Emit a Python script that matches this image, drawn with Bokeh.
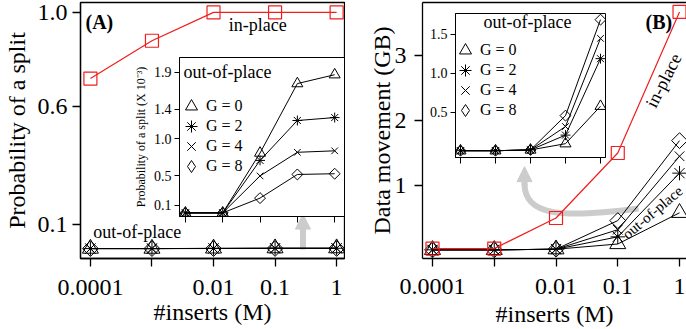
import math
from bokeh.plotting import figure
from bokeh.layouts import row
from bokeh.models import (Range1d, FixedTicker, Label, Legend, LegendItem, Arrow,
                          NormalHead, LinearAxis)
from bokeh.embed import file_html
from bokeh.resources import INLINE

FONT = "Liberation Serif"

# ---------------- data ----------------
inserts = [0.0001, 0.001, 0.01, 0.1, 1]
x_tick_labels = ["0.0001", "", "0.01", "0.1", "1"]
x_title = "#inserts (M)"
g_labels = ["G = 0", "G = 2", "G = 4", "G = 8"]

# (A) probability of a split
split_inplace = [0.72, 0.88, 1.0, 1.0, 1.0]
split_g0 = [0.0, 0.0, 0.81, 1.75, 1.87]   # x 10^-3
split_g2 = [0.0, 0.0, 0.71, 1.25, 1.29]
split_g4 = [0.0, 0.0, 0.50, 0.82, 0.84]
split_g8 = [0.0, 0.0, 0.20, 0.52, 0.53]
split_unit = 1e-3

# (B) data movement (GB)
move_inplace = [0.03, 0.03, 0.50, 1.50, 3.67]
move_g0 = [0.01, 0.01, 0.02, 0.10, 0.58]
move_g2 = [0.01, 0.01, 0.02, 0.21, 1.19]
move_g4 = [0.01, 0.01, 0.02, 0.32, 1.45]
move_g8 = [0.01, 0.01, 0.02, 0.46, 1.69]

a_yticks = [0.1, 0.6, 1.0]
a_ylabels = ["0.1", "0.6", "1.0"]
a_in_yticks = [0.1, 0.5, 1.0, 1.4, 1.9]
a_in_ylabels = ["0.1", "0.5", "1.0", "1.4", "1.9"]
b_yticks = [1, 2, 3]
b_ylabels = ["1", "2", "3"]
b_in_yticks = [0.5, 1.0, 1.5]
b_in_ylabels = ["0.5", "1.0", "1.5"]

split_series = [split_g0, split_g2, split_g4, split_g8]
move_series = [move_g0, move_g2, move_g4, move_g8]

MARKERS = [("triangle", 1.0, 0.0), ("asterisk", 0.9, 0.0),
           ("x", 0.85, 0.0), ("square", 0.7, math.pi / 4)]
LEGEND_MARKERS = ["triangle", "asterisk", "x", "diamond"]
GRAY = "#cccccc"
RED = "#f01e1e"


def make_fig(w, h, xr, yr, mb, outline=True):
    p = figure(width=w, height=h, x_axis_type="log",
               x_range=Range1d(*xr), y_range=Range1d(*yr),
               output_backend="svg", toolbar_location=None,
               min_border_left=mb[0], min_border_right=mb[1],
               min_border_top=mb[2], min_border_bottom=mb[3])
    p.xgrid.visible = False
    p.ygrid.visible = False
    p.background_fill_color = "white"
    p.outline_line_color = "black" if outline else None
    p.outline_line_width = 1.3
    return p


def setup_axis(ax, ticks, labels, fs, tick_out, standoff, lw=1.3):
    ax.ticker = FixedTicker(ticks=ticks)
    ax.major_label_overrides = {t: l for t, l in zip(ticks, labels)}
    ax.major_label_text_font = FONT
    ax.major_label_text_font_size = fs
    ax.major_label_text_color = "black"
    ax.major_tick_in = 0
    ax.major_tick_out = tick_out
    ax.minor_tick_line_color = None
    ax.major_label_standoff = standoff
    ax.axis_line_width = lw
    ax.major_tick_line_width = lw
    ax.axis_label_text_font = FONT
    ax.axis_label_text_font_style = "normal"
    ax.axis_label_text_color = "black"


def add_series(p, ys, scale, fac):
    for vals, (mk, k, ang) in zip(ys, MARKERS):
        yv = [v * scale for v in vals]
        p.line(inserts, yv, line_color="black", line_width=1)
        p.scatter(inserts, yv, marker=mk, size=fac * k, angle=ang,
                  fill_color=None, line_color="black", line_width=1)


def add_legend(p, ys, vx, vys, standoff):
    # one single-entry legend per series (hidden proxy renderers carry the legend glyphs)
    for vals, lab, mk, vy in zip(ys, g_labels, LEGEND_MARKERS, vys):
        r = p.scatter(inserts, vals, marker=mk, fill_color=None, line_color="black",
                      line_width=1, visible=False)
        lg = Legend(items=[LegendItem(label=lab, renderers=[r])], location=(vx, vy),
                    glyph_width=30, glyph_height=32, label_height=20,
                    spacing=0, padding=0, margin=0, label_standoff=standoff,
                    label_text_font=FONT, label_text_font_size="16px",
                    label_text_color="black", inactive_fill_alpha=0,
                    border_line_color=None, background_fill_alpha=0)
        p.add_layout(lg)


def label(p, x, y, text, size, bold=False, align="left", angle=0.0):
    p.add_layout(Label(x=x, y=y, text=text, text_font=FONT, text_color="black",
                       text_font_style="bold" if bold else "normal",
                       text_font_size=size, text_baseline="middle",
                       text_align=align, angle=angle))


# ---------------- panel A  (frame x 77..344, y 2..262) ----------------
pA = make_fig(345, 329, (10 ** -4.161, 10 ** 0.128), (-0.042, 1.042), (77, 1, 2, 67))
setup_axis(pA.xaxis[0], inserts, x_tick_labels, "24px", 8, 13)
setup_axis(pA.yaxis[0], a_yticks, a_ylabels, "24px", 8, 5)
pA.xaxis.axis_label = x_title
pA.yaxis.axis_label = "Probability of a split"
pA.xaxis.axis_label_text_font_size = "24px"
pA.yaxis.axis_label_text_font_size = "24px"
pA.xaxis.axis_label_standoff = 1
pA.yaxis.axis_label_standoff = 5

pA.add_layout(Arrow(x_start=0.284, y_start=-0.004, x_end=0.284, y_end=0.146,
                    line_color=GRAY, line_width=6, level="underlay",
                    end=NormalHead(size=15, fill_color=GRAY, line_color=GRAY)))
add_series(pA, split_series, split_unit, 16)
pA.line(inserts, split_inplace, line_color=RED, line_width=1.2)
pA.scatter(inserts, split_inplace, marker="square", size=13, fill_color=None,
           line_color=RED, line_width=1.2)

label(pA, 10 ** -4.08, 0.958, "(A)", "20px", bold=True)
label(pA, 0.0177, 0.946, "in-place", "18px")
label(pA, 1.117e-4, 0.071, "out-of-place", "18px")

# inset A  (frame: x 176..344, y 57..216)
iA = make_fig(215, 181, (10 ** -4.158, 10 ** 0.263), (-0.049, 2.103), (46, 1, 10, 12))
iA.outline_line_width = 1
iA.border_fill_color = None
setup_axis(iA.xaxis[0], inserts, ["", "", "", "", ""], "0px", 6, 0, lw=1)
setup_axis(iA.yaxis[0], a_in_yticks, a_in_ylabels, "14px", 5, 3, lw=1)
iA.yaxis.axis_label = "Probability of a split (X 10\u207b\u00b3)"
iA.yaxis.axis_label_text_font_size = "12px"
iA.yaxis.axis_label_standoff = 3
add_series(iA, split_series, 1.0, 11)
label(iA, 10 ** -4.053, 1.913, "out-of-place", "18px")
add_legend(iA, split_series, -3, [94, 74, 54, 34], -3)
iA.styles = {"position": "absolute", "left": "130px", "top": "47px"}

# ---------------- panel B  (frame x 422..686, y 2..258) ----------------
pB = make_fig(341, 329, (10 ** -4.162, 10 ** 0.113), (-0.123, 3.815), (77, 0, 2, 71), outline=False)
setup_axis(pB.xaxis[0], inserts, x_tick_labels, "24px", 8, 12)
setup_axis(pB.yaxis[0], b_yticks, b_ylabels, "24px", 8, 8)
pB.xaxis.axis_label = x_title
pB.yaxis.axis_label = "Data movement (GB)"
pB.xaxis.axis_label_text_font_size = "24px"
pB.yaxis.axis_label_text_font_size = "24px"
pB.xaxis.axis_label_standoff = 4
pB.yaxis.axis_label_standoff = -3
top_ax = LinearAxis(ticker=FixedTicker(ticks=[]), major_tick_out=0, major_tick_in=0,
                    major_label_standoff=0, axis_line_width=1.3, minor_tick_line_color=None)
pB.add_layout(top_ax, "above")

pB.bezier(x0=[0.217], y0=[0.646], x1=[0.00309], y1=[1.03],
          cx0=[0.01184], cy0=[0.49], cx1=[0.00309], cy1=[0.538],
          line_color=GRAY, line_width=6)
pB.add_layout(Arrow(x_start=0.00309, y_start=1.0, x_end=0.00309, y_end=1.29,
                    line_color=GRAY, line_width=6, level="underlay",
                    end=NormalHead(size=15, fill_color=GRAY, line_color=GRAY)))
add_series(pB, move_series, 1.0, 16)
pB.line(inserts, move_inplace, line_color=RED, line_width=1.2)
pB.scatter(inserts, move_inplace, marker="square", size=13, fill_color=None,
           line_color=RED, line_width=1.2)

label(pB, 0.281, 3.51, "(B)", "20px", bold=True)
label(pB, 0.551, 2.615, "in-place", "18px", align="center", angle=1.10)
label(pB, 0.366, 0.585, "out-of-place", "15px", align="center", angle=0.70)

# inset B  (frame: x 455..605, y 13..157)
iB = make_fig(182, 153, (10 ** -4.143, 10 ** 0.143), (-0.077, 1.769), (31, 1, 1, 8))
iB.outline_line_width = 1
iB.border_fill_color = None
setup_axis(iB.xaxis[0], inserts, ["", "", "", "", ""], "0px", 6, 0, lw=1)
setup_axis(iB.yaxis[0], b_in_yticks, b_in_ylabels, "14px", 5, 3, lw=1)
add_series(iB, move_series, 1.0, 11)
label(iB, 0.0082, 1.654, "out-of-place", "18px", align="center")
add_legend(iB, move_series, -5, [91, 71, 51, 31], -5)
iB.styles = {"position": "absolute", "left": "424px", "top": "12px"}

root = row(pA, pB)
open("out.html", "w").write(file_html([root, iA, iB], INLINE))
